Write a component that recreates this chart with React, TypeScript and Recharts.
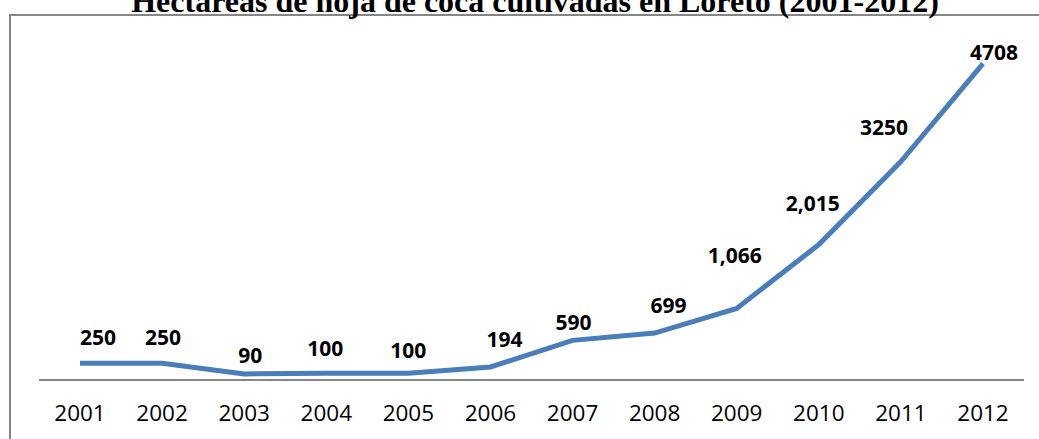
import { LineChart, Line, XAxis, YAxis, LabelList } from 'recharts'

const years = ['2001', '2002', '2003', '2004', '2005', '2006', '2007', '2008', '2009', '2010', '2011', '2012']
const hectares = [250, 250, 90, 100, 100, 194, 590, 699, 1066, 2015, 3250, 4708]
const labelTexts = ['250', '250', '90', '100', '100', '194', '590', '699', '1,066', '2,015', '3250', '4708']

// label placement relative to each point (labels were hand-placed in the original)
const labelDx = [18, 1, 6, -1, 0, 14, 1, 14, -2, -6, -17, 11]
const labelDy = [-26, -26, -19, -25, -23, -28, -18, -28, -53, -42, -35, -12]

const data = years.map((year, i) => ({ year, value: hectares[i] }))

const FONT = '"Open Sans", sans-serif'

function PointLabel(props: any) {
  const { x, y, index } = props
  return (
    <text
      x={x + labelDx[index]}
      y={y + labelDy[index]}
      textAnchor="middle"
      dominantBaseline="central"
      fontFamily={FONT}
      fontWeight="bold"
      fontSize={21}
      fill="#000"
    >
      {labelTexts[index]}
    </text>
  )
}

export default function App() {
  return (
    <div style={{ position: 'absolute', left: 0, top: 0, width: 1039, height: 439, overflow: 'hidden', background: '#fff' }}>
      <div
        style={{
          position: 'absolute',
          left: 9,
          top: 14,
          width: 1100,
          height: 500,
          borderLeft: '2px solid #868686',
          borderTop: '2px solid #868686',
        }}
      />
      <div
        style={{
          position: 'absolute',
          left: 0,
          width: 1070,
          top: -19,
          textAlign: 'center',
          fontFamily: '"Liberation Serif", "Times New Roman", serif',
          fontWeight: 'bold',
          fontSize: 32,
          lineHeight: '40px',
          color: '#000',
          whiteSpace: 'nowrap',
        }}
      >
        Hectáreas de hoja de coca cultivadas en Loreto (2001-2012)
      </div>
      <div style={{ position: 'absolute', left: 0, top: 0 }}>
        <LineChart width={1039} height={439} data={data} margin={{ top: 44, right: 15, bottom: 0, left: 39 }}>
          <XAxis
            dataKey="year"
            height={59}
            padding={{ left: 41, right: 41 }}
            axisLine={{ stroke: '#868686', strokeWidth: 2 }}
            tickLine={false}
            tickSize={0}
            tickMargin={25}
            tick={{ fontFamily: FONT, fontSize: 22.5, fill: '#000' }}
            interval={0}
          />
          <YAxis hide domain={[0, 5000]} />
          <Line
            type="linear"
            dataKey="value"
            stroke="#4A7EBB"
            strokeWidth={5}
            dot={false}
            isAnimationActive={false}
          >
            <LabelList dataKey="value" content={<PointLabel />} />
          </Line>
        </LineChart>
      </div>
    </div>
  )
}
